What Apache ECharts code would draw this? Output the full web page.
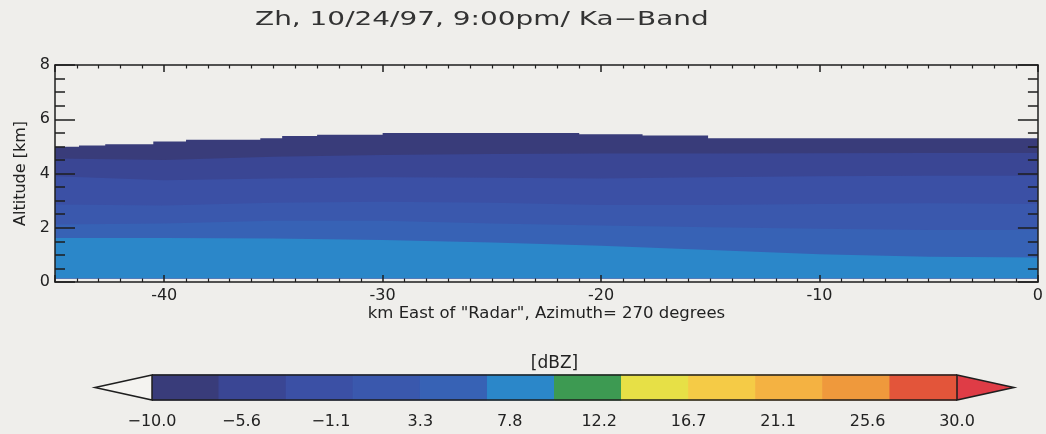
<!DOCTYPE html>
<html>
<head>
<meta charset="utf-8">
<title>Zh, 10/24/97, 9:00pm/ Ka-Band</title>
<script src="https://cdn.jsdelivr.net/npm/echarts@6/dist/echarts.min.js"></script>
<style>
  html, body { margin: 0; padding: 0; background: #efeeeb; }
  #chart { width: 1046px; height: 434px; }
</style>
</head>
<body>
<div id="chart"></div>
<script>
// ---- Range-height section of Ka-band reflectivity (Zh) ----

const titleText = 'Zh, 10/24/97, 9:00pm/ Ka\u2212Band';

// Distance east of the radar (km) where the contour edges are sampled
const distKm = [-45, -40, -35, -30, -25, -20, -15, -10, -5, 0];

// Echo top (outer edge of the -10 dBZ region), constant over each range block
const echoTopStartKm = [-45, -43.9, -42.7, -40.5, -39.0, -35.6, -34.6, -33.0, -30.0, -21.0, -18.1, -15.1];
const echoTopKm      = [4.99, 5.03, 5.08, 5.18, 5.24, 5.30, 5.38, 5.43, 5.49, 5.45, 5.40, 5.30];

// Heights (km) of the filled-contour edges along distKm
const edgeMinus67 = [4.55, 4.50, 4.62, 4.68, 4.72, 4.74, 4.74, 4.75, 4.76, 4.76]; // -6.7 dBZ
const edgeMinus33 = [3.90, 3.75, 3.82, 3.86, 3.84, 3.82, 3.86, 3.90, 3.92, 3.92]; // -3.3 dBZ
const edgeZero    = [2.86, 2.82, 2.92, 2.96, 2.92, 2.84, 2.84, 2.88, 2.90, 2.88]; //  0.0 dBZ
const edgePlus33  = [2.12, 2.16, 2.26, 2.26, 2.16, 2.08, 2.02, 1.96, 1.92, 1.92]; //  3.3 dBZ
const edgePlus67  = [1.62, 1.62, 1.60, 1.55, 1.46, 1.34, 1.18, 1.02, 0.93, 0.90]; //  6.7 dBZ
const lowestGateKm = 0.14;

// Colour table: band edges (dBZ) and one colour per band
const levelEdges = [-10, -6.67, -3.33, 0, 3.33, 6.67, 10, 13.33, 16.67, 20, 23.33, 26.67, 30];
const bandColors = ['#393c7a', '#3a4694', '#3b50a5', '#3a58ad', '#3762b5', '#2b87c9',
                    '#3d9a52', '#e7e046', '#f5cb46', '#f4b242', '#ef993c', '#e3553a'];
const overColor = '#df3c46';
const cbarTickLabels = ['\u221210.0', '\u22125.6', '\u22121.1', '3.3', '7.8', '12.2', '16.7', '21.1', '25.6', '30.0'];

// ---- drawing ----
const ink = '#1e1e1e';
const font = 'DejaVu Sans';
const contourEdges = [edgeMinus67, edgeMinus33, edgeZero, edgePlus33, edgePlus67];

// Filled region k: from the lowest gate up to edge k (k = 0 is the echo top).
// Regions are painted from the outermost inwards, each over the previous one.
function regionPoints(k, api) {
  const pts = [];
  const xEnd = distKm[distKm.length - 1];
  if (k === 0) {
    echoTopStartKm.forEach((x0, i) => {
      const x1 = i + 1 < echoTopStartKm.length ? echoTopStartKm[i + 1] : xEnd;
      pts.push(api.coord([x0, echoTopKm[i]]), api.coord([x1, echoTopKm[i]]));
    });
  } else {
    const edge = contourEdges[k - 1];
    distKm.forEach((d, i) => pts.push(api.coord([d, edge[i]])));
  }
  pts.push(api.coord([xEnd, lowestGateKm]), api.coord([distKm[0], lowestGateKm]));
  return pts;
}

// dBZ -> colour-bar axis units (one unit per labelled tick)
const dbzToBar = d => (d - levelEdges[0]) / (levelEdges[levelEdges.length - 1] - levelEdges[0]) * (cbarTickLabels.length - 1);

const tickStyle = { color: ink, width: 1.5 };
const minorXStyle = { color: ink, width: 1.2 };
const labelStyle = { color: '#222', fontSize: 16, fontFamily: font };

const chart = echarts.init(document.getElementById('chart'));
chart.setOption({
  backgroundColor: '#efeeeb',
  animation: false,
  graphic: [{
    type: 'text', x: 255, y: 20.5, scaleX: 1.47, originX: 0, originY: 0,
    style: { text: titleText, font: '19px "DejaVu Sans"', fill: '#333', align: 'left', verticalAlign: 'middle' }
  }],
  grid: [
    { left: 55, right: 8, top: 65, bottom: 152 },
    { left: 152, right: 89, top: 375, height: 25 }
  ],
  xAxis: [
    {
      gridIndex: 0, type: 'value', min: -45, max: 0, splitNumber: 5, position: 'bottom', z: 5,
      axisLine: { onZero: false, lineStyle: tickStyle },
      axisTick: { show: true, inside: true, length: 7, lineStyle: tickStyle },
      minorTick: { show: true, splitNumber: 10, length: 3.5, lineStyle: minorXStyle },
      splitLine: { show: false },
      axisLabel: Object.assign({ margin: 6, showMinLabel: false }, labelStyle),
      name: 'km East of "Radar", Azimuth= 270 degrees', nameLocation: 'middle', nameGap: 21,
      nameTextStyle: { color: '#222', fontSize: 16.5, fontFamily: font }
    },
    {
      gridIndex: 0, type: 'value', min: -45, max: 0, splitNumber: 5, position: 'top', z: 5,
      axisLine: { onZero: false, lineStyle: tickStyle },
      axisTick: { show: true, inside: true, length: 7, lineStyle: tickStyle },
      minorTick: { show: true, splitNumber: 10, length: 3.5, lineStyle: minorXStyle },
      splitLine: { show: false },
      axisLabel: { show: false }
    },
    {
      gridIndex: 1, type: 'value', min: 0, max: cbarTickLabels.length - 1, interval: 1,
      axisLine: { show: false }, axisTick: { show: false }, splitLine: { show: false },
      axisLabel: Object.assign({ margin: 14, formatter: v => cbarTickLabels[Math.round(v)] }, labelStyle)
    },
    {
      gridIndex: 1, type: 'value', min: 0, max: cbarTickLabels.length - 1, position: 'top',
      axisLine: { show: false }, axisTick: { show: false }, splitLine: { show: false }, axisLabel: { show: false },
      name: '[dBZ]', nameLocation: 'middle', nameGap: 3,
      nameTextStyle: { color: '#222', fontSize: 17, fontFamily: font }
    }
  ],
  yAxis: [
    {
      gridIndex: 0, type: 'value', min: 0, max: 8, interval: 2, position: 'left', z: 5,
      axisLine: { show: true, onZero: false, lineStyle: tickStyle },
      axisTick: { inside: true, length: 20, lineStyle: tickStyle },
      minorTick: { show: true, splitNumber: 4, length: 10, lineStyle: tickStyle },
      splitLine: { show: false },
      axisLabel: Object.assign({ margin: 5 }, labelStyle),
      name: 'Altitude [km]', nameLocation: 'middle', nameGap: 25, nameRotate: 90,
      nameTextStyle: { color: '#222', fontSize: 16, fontFamily: font }
    },
    {
      gridIndex: 0, type: 'value', min: 0, max: 8, interval: 2, position: 'right', z: 5,
      axisLine: { show: true, onZero: false, lineStyle: tickStyle },
      axisTick: { inside: true, length: 20, lineStyle: tickStyle },
      minorTick: { show: true, splitNumber: 4, length: 10, lineStyle: tickStyle },
      splitLine: { show: false },
      axisLabel: { show: false }
    },
    { gridIndex: 1, type: 'value', min: 0, max: 1, show: false }
  ],
  series: [
    {
      // filled reflectivity contours
      type: 'custom', xAxisIndex: 0, yAxisIndex: 0, clip: true, z: 1,
      data: [0, 1, 2, 3, 4, 5].map(k => [k]),
      renderItem: (params, api) => ({
        type: 'polygon',
        shape: { points: regionPoints(params.dataIndex, api) },
        style: { fill: bandColors[params.dataIndex] }
      })
    },
    {
      // colour-bar blocks
      type: 'custom', xAxisIndex: 2, yAxisIndex: 2, z: 2,
      data: bandColors.map((c, k) => [k]),
      renderItem: (params, api) => {
        const k = params.dataIndex;
        const p0 = api.coord([dbzToBar(levelEdges[k]), 1]);
        const p1 = api.coord([dbzToBar(levelEdges[k + 1]), 0]);
        return {
          type: 'rect',
          shape: { x: p0[0], y: p0[1], width: p1[0] - p0[0], height: p1[1] - p0[1] },
          style: { fill: bandColors[k], stroke: bandColors[k], lineWidth: 1 }
        };
      }
    },
    {
      // colour-bar outline with under/over triangles
      type: 'custom', xAxisIndex: 2, yAxisIndex: 2, z: 3,
      data: [[0]],
      renderItem: (params, api) => {
        const tl = api.coord([0, 1]);
        const br = api.coord([cbarTickLabels.length - 1, 0]);
        const midY = (tl[1] + br[1]) / 2;
        const tip = 57;
        return {
          type: 'group',
          children: [
            { type: 'polygon', shape: { points: [[tl[0], tl[1]], [tl[0] - tip, midY], [tl[0], br[1]]] },
              style: { fill: '#f4f3f0', stroke: ink, lineWidth: 1.5 } },
            { type: 'polygon', shape: { points: [[br[0], tl[1]], [br[0] + tip, midY], [br[0], br[1]]] },
              style: { fill: overColor, stroke: ink, lineWidth: 1.5 } },
            { type: 'line', shape: { x1: tl[0], y1: tl[1], x2: br[0], y2: tl[1] }, style: { stroke: ink, lineWidth: 1.5 } },
            { type: 'line', shape: { x1: tl[0], y1: br[1], x2: br[0], y2: br[1] }, style: { stroke: ink, lineWidth: 1.5 } }
          ]
        };
      }
    }
  ]
});
</script>
</body>
</html>
